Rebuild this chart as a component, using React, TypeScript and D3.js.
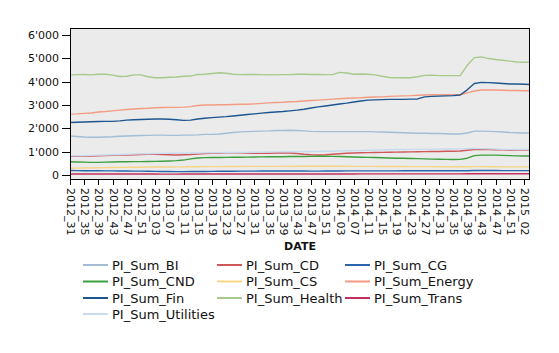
import { useEffect, useRef } from 'react';
import * as d3 from 'd3';

// x axis: one data point every 2 weeks, a tick label every 4 weeks
const tickLabels = [
  '2012_31', '2012_35', '2012_39', '2012_43', '2012_47', '2012_51',
  '2013_03', '2013_07', '2013_11', '2013_15', '2013_19', '2013_23', '2013_27',
  '2013_31', '2013_35', '2013_39', '2013_43', '2013_47', '2013_51',
  '2014_03', '2014_07', '2014_11', '2014_15', '2014_19', '2014_23', '2014_27',
  '2014_31', '2014_35', '2014_39', '2014_43', '2014_47', '2014_51', '2015_02',
];

const bi = [
  1670, 1650, 1630, 1620, 1620, 1630, 1640, 1660, 1670, 1680,
  1690, 1700, 1710, 1710, 1700, 1700, 1710, 1710, 1720, 1740,
  1740, 1760, 1790, 1820, 1850, 1860, 1870, 1880, 1890, 1910,
  1910, 1920, 1910, 1890, 1870, 1860, 1860, 1860, 1860, 1860,
  1860, 1860, 1860, 1850, 1840, 1830, 1820, 1810, 1800, 1790,
  1790, 1780, 1780, 1770, 1760, 1760, 1800, 1880, 1880, 1870,
  1860, 1840, 1820, 1810, 1800, 1800,
];
const cd = [
  800, 805, 810, 815, 820, 830, 840, 850, 860, 870,
  880, 885, 890, 880, 870, 860, 870, 880, 900, 920,
  930, 940, 950, 955, 950, 940, 930, 925, 930, 940,
  950, 940, 920, 890, 870, 860, 870, 890, 910, 930,
  945, 955, 960, 965, 970, 975, 980, 985, 990, 995,
  1000, 1005, 1010, 1015, 1020, 1030, 1060, 1090, 1100, 1090,
  1080, 1075, 1070, 1070, 1065, 1065,
];
const cg = [
  190, 188, 185, 183, 180, 178, 175, 172, 170, 168,
  165, 160, 155, 150, 148, 145, 145, 148, 150, 152,
  155, 158, 160, 162, 165, 165, 168, 170, 170, 172,
  172, 172, 170, 170, 168, 168, 170, 172, 174, 175,
  175, 176, 176, 177, 178, 178, 178, 180, 180, 180,
  180, 180, 180, 180, 182, 182, 185, 190, 192, 190,
  190, 188, 188, 186, 186, 186,
];
const cnd = [
  570, 560, 550, 540, 540, 550, 560, 565, 570, 575,
  575, 580, 585, 590, 600, 615, 640, 690, 730, 745,
  750, 750, 755, 760, 760, 765, 770, 775, 780, 785,
  785, 790, 790, 795, 800, 805, 810, 800, 790, 780,
  770, 760, 755, 750, 740, 730, 720, 715, 710, 700,
  690, 680, 675, 670, 665, 670, 720, 830, 850, 850,
  850, 840, 830, 820, 815, 815,
];
const cs = [
  290, 295, 300, 305, 310, 315, 320, 325, 330, 335,
  335, 340, 340, 345, 345, 350, 350, 355, 355, 360,
  360, 360, 365, 365, 365, 370, 370, 370, 370, 370,
  370, 375, 375, 375, 375, 375, 375, 375, 375, 375,
  370, 370, 370, 370, 365, 365, 365, 365, 360, 360,
  360, 360, 355, 355, 355, 355, 355, 360, 360, 355,
  355, 350, 350, 350, 350, 350,
];
const energy = [
  2610, 2620, 2640, 2660, 2700, 2720, 2750, 2780, 2810, 2830,
  2850, 2860, 2880, 2890, 2900, 2900, 2910, 2930, 2980, 3000,
  3000, 3010, 3010, 3020, 3030, 3030, 3050, 3070, 3090, 3110,
  3120, 3140, 3150, 3170, 3190, 3210, 3230, 3250, 3270, 3290,
  3300, 3310, 3330, 3340, 3350, 3370, 3380, 3390, 3400, 3420,
  3430, 3440, 3440, 3440, 3440, 3440, 3520, 3600, 3640, 3640,
  3640, 3630, 3620, 3620, 3610, 3610,
];
const fin = [
  2250, 2260, 2270, 2280, 2290, 2300, 2300, 2320, 2350, 2370,
  2380, 2390, 2400, 2400, 2390, 2370, 2340, 2350, 2400, 2430,
  2460, 2480, 2500, 2530, 2560, 2590, 2620, 2650, 2680, 2700,
  2720, 2750, 2780, 2820, 2870, 2920, 2960, 3000, 3040, 3080,
  3130, 3170, 3210, 3220, 3230, 3240, 3240, 3240, 3250, 3260,
  3350, 3370, 3380, 3390, 3400, 3430, 3650, 3920, 3970, 3960,
  3940, 3920, 3900, 3900, 3890, 3880,
];
const health = [
  4290, 4300, 4310, 4290, 4320, 4320, 4280, 4220, 4230, 4290,
  4290, 4210, 4170, 4170, 4190, 4200, 4230, 4240, 4310, 4320,
  4350, 4380, 4360, 4320, 4300, 4310, 4310, 4300, 4290, 4300,
  4300, 4300, 4320, 4320, 4310, 4310, 4300, 4300, 4400, 4370,
  4320, 4330, 4320, 4290, 4230, 4180, 4170, 4170, 4170, 4210,
  4270, 4280, 4260, 4260, 4260, 4260, 4700, 5030, 5060, 4990,
  4950, 4920, 4880, 4840, 4830, 4830,
];
const trans = [
  40, 40, 42, 42, 44, 44, 45, 45, 44, 44,
  42, 40, 40, 38, 38, 38, 40, 40, 42, 44,
  45, 46, 46, 46, 45, 45, 44, 44, 44, 45,
  46, 46, 45, 45, 44, 44, 44, 45, 45, 46,
  46, 47, 47, 48, 48, 48, 48, 48, 49, 49,
  50, 50, 50, 50, 50, 50, 52, 55, 55, 54,
  54, 53, 53, 52, 52, 52,
];
const utilities = [
  820, 825, 830, 840, 850, 860, 870, 880, 890, 900,
  905, 910, 920, 925, 930, 930, 935, 940, 945, 950,
  955, 960, 965, 965, 970, 970, 975, 980, 985, 990,
  990, 995, 1000, 1000, 1005, 1010, 1015, 1020, 1030, 1040,
  1045, 1050, 1060, 1065, 1070, 1080, 1090, 1095, 1100, 1100,
  1100, 1110, 1110, 1115, 1120, 1120, 1130, 1140, 1130, 1120,
  1110, 1100, 1100, 1090, 1090, 1090,
];

const seriesNames = [
  'PI_Sum_BI', 'PI_Sum_CD', 'PI_Sum_CG', 'PI_Sum_CND', 'PI_Sum_CS',
  'PI_Sum_Energy', 'PI_Sum_Fin', 'PI_Sum_Health', 'PI_Sum_Trans', 'PI_Sum_Utilities',
];
const seriesColors = [
  '#a3bdd4', '#d0575a', '#2a66ad', '#3da03d', '#f7d486',
  '#f39c83', '#1d5590', '#a8c98c', '#c2305e', '#c8dcef',
];
const seriesValues = [bi, cd, cg, cnd, cs, energy, fin, health, trans, utilities];

const yTicks = [0, 1000, 2000, 3000, 4000, 5000, 6000];

export default function App() {
  const svgRef = useRef<SVGSVGElement>(null);

  useEffect(() => {
    if (!svgRef.current) return;
    const svg = d3.select(svgRef.current);
    svg.selectAll('*').remove();

    const font = '"DejaVu Sans", Verdana, sans-serif';
    const left = 70, right = 530, top = 28, bottom = 180;

    const x = d3.scaleLinear().domain([0, 64]).range([left, 524]);
    const y = d3.scaleLinear().domain([0, 6000]).range([175, 35]);

    const fmt = d3.formatLocale({ decimal: '.', thousands: "'", grouping: [3], currency: ['', ''] }).format(',');

    svg.append('defs').append('clipPath').attr('id', 'plot-clip')
      .append('rect')
      .attr('x', left).attr('y', top)
      .attr('width', right - left).attr('height', bottom - top);

    svg.append('rect')
      .attr('x', left).attr('y', top)
      .attr('width', right - left).attr('height', bottom - top)
      .attr('fill', '#ebebeb');

    const line = d3.line<number>()
      .x((_, i) => x(i))
      .y(d => y(d));

    const lines = svg.append('g').attr('clip-path', 'url(#plot-clip)');
    seriesValues.forEach((vals, i) => {
      lines.append('path')
        .datum(vals)
        .attr('d', line)
        .attr('fill', 'none')
        .attr('stroke', seriesColors[i])
        .attr('stroke-width', 1.4)
        .attr('stroke-linejoin', 'round');
    });

    svg.append('rect')
      .attr('x', left + 0.5).attr('y', top + 0.5)
      .attr('width', right - left - 1).attr('height', bottom - top - 1)
      .attr('fill', 'none')
      .attr('stroke', '#000')
      .attr('stroke-width', 1);

    // y axis
    yTicks.forEach(t => {
      const yy = Math.round(y(t)) + 0.5;
      svg.append('line')
        .attr('x1', 62).attr('x2', left)
        .attr('y1', yy).attr('y2', yy)
        .attr('stroke', '#000');
      svg.append('text')
        .attr('x', 59).attr('y', yy)
        .attr('dy', '0.35em')
        .attr('text-anchor', 'end')
        .attr('font-family', font)
        .attr('font-size', 11)
        .attr('fill', '#111')
        .text(fmt(t));
    });

    // x axis
    tickLabels.forEach((lab, i) => {
      const xx = Math.round(x(i * 2)) + 0.5;
      svg.append('line')
        .attr('x1', xx).attr('x2', xx)
        .attr('y1', bottom).attr('y2', bottom + 5)
        .attr('stroke', '#000');
      svg.append('text')
        .attr('transform', `translate(${xx},${bottom + 8}) rotate(90)`)
        .attr('dy', '0.35em')
        .attr('text-anchor', 'start')
        .attr('font-family', font)
        .attr('font-size', 11)
        .attr('fill', '#111')
        .text(lab);
    });

    svg.append('text')
      .attr('x', (left + right) / 2).attr('y', 250)
      .attr('text-anchor', 'middle')
      .attr('font-family', font)
      .attr('font-size', 11)
      .attr('font-weight', 'bold')
      .attr('fill', '#111')
      .text('DATE');

    // legend, 3 columns
    const colX = [83, 217, 345];
    const rowY = [265, 281.5, 298, 314];
    seriesNames.forEach((name, i) => {
      const cx = colX[i % 3];
      const cy = rowY[Math.floor(i / 3)];
      svg.append('line')
        .attr('x1', cx).attr('x2', cx + 25)
        .attr('y1', cy).attr('y2', cy)
        .attr('stroke', seriesColors[i])
        .attr('stroke-width', 2);
      svg.append('text')
        .attr('x', cx + 29).attr('y', cy)
        .attr('dy', '0.35em')
        .attr('font-family', font)
        .attr('font-size', 13)
        .attr('fill', '#111')
        .text(name);
    });
  }, []);

  return (
    <svg
      ref={svgRef}
      width={559}
      height={353}
      style={{ position: 'absolute', left: 0, top: 0, background: '#fff' }}
    />
  );
}
